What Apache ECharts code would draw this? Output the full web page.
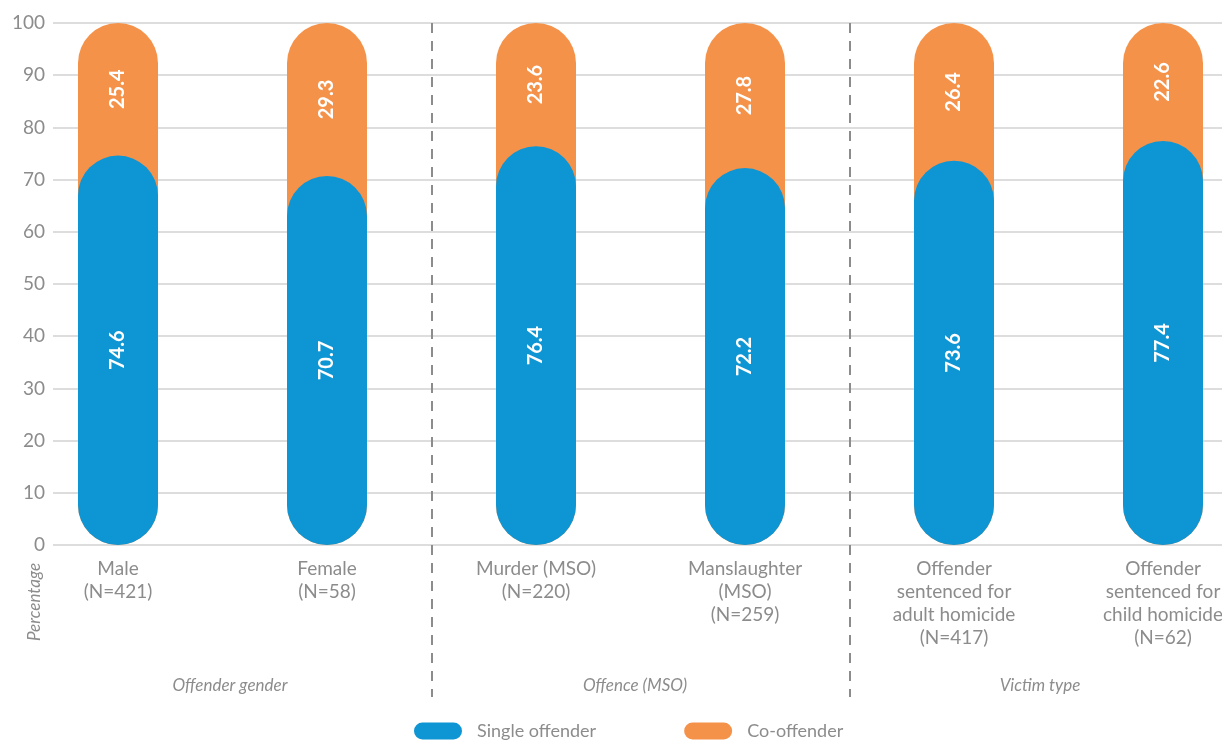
<!DOCTYPE html>
<html>
<head>
<meta charset="utf-8">
<title>Single offender vs co-offender</title>
<script src="https://cdn.jsdelivr.net/npm/echarts@6/dist/echarts.min.js"></script>
<style>
  html, body { margin: 0; padding: 0; background: #ffffff; }
  #chart { width: 1222px; height: 740px; }
</style>
</head>
<body>
<div id="chart"></div>
<script>
// Categories (x axis), grouped in pairs
const categories = [
  'Male\n(N=421)',
  'Female\n(N=58)',
  'Murder (MSO)\n(N=220)',
  'Manslaughter\n(MSO)\n(N=259)',
  'Offender\nsentenced for\nadult homicide\n(N=417)',
  'Offender\nsentenced for\nchild homicide\n(N=62)'
];
const groups = ['Offender gender', 'Offence (MSO)', 'Victim type'];

// Percentages
const singleOffender = [74.6, 70.7, 76.4, 72.2, 73.6, 77.4];
const coOffender = [25.4, 29.3, 23.6, 27.8, 26.4, 22.6];

const yTicks = { min: 0, max: 100, interval: 10 };

// top of each stacked column (single + co-offender)
const columnTotal = singleOffender.map((v, i) => +(v + coOffender[i]).toFixed(1));

const BLUE = '#0E95D3';
const ORANGE = '#F5924A';
const GREY = '#8c8c8c';
const FONT = 'Lato, "Open Sans", sans-serif';

const chart = echarts.init(document.getElementById('chart'), null, { renderer: 'canvas' });

const pillPath = 'path://M8.5,0 L39.5,0 A8.5,8.5 0 0 1 39.5,17 L8.5,17 A8.5,8.5 0 0 1 8.5,0 Z';

const valueLabel = {
  show: true,
  position: 'inside',
  rotate: 90,
  color: '#ffffff',
  fontFamily: FONT,
  fontWeight: 'bold',
  fontSize: 20,
  formatter: p => p.value.toFixed(1)
};

// the last category runs past the right edge of the canvas, so grids may overflow
const gridBase = { top: 23, outerBoundsMode: 'none', containLabel: false };

const option = {
  backgroundColor: '#ffffff',
  animation: false,
  textStyle: { fontFamily: FONT },
  grid: [
    // y scale + horizontal gridlines
    Object.assign({}, gridBase, { left: 53, width: 1169, bottom: 195 }),
    // bars + category labels
    Object.assign({}, gridBase, { left: 13.5, width: 1254, bottom: 195 }),
    // group separators
    Object.assign({}, gridBase, { left: 13.5, width: 1254, bottom: 43 }),
    // group titles
    Object.assign({}, gridBase, { left: 27.5, width: 1215, bottom: 43 })
  ],
  xAxis: [
    { gridIndex: 0, type: 'category', data: [''], show: false },
    {
      gridIndex: 1, type: 'category', data: categories,
      axisLine: { show: false }, axisTick: { show: false },
      axisLabel: {
        interval: 0, margin: 12, color: GREY, fontSize: 19, lineHeight: 23,
        fontFamily: FONT
      }
    },
    {
      gridIndex: 2, type: 'category', data: groups,
      axisLine: { show: false }, axisTick: { show: false }, axisLabel: { show: false },
      splitLine: {
        show: true,
        interval: (i) => i > 0,
        lineStyle: { color: GREY, width: 2, type: [10, 8] }
      }
    },
    {
      gridIndex: 3, type: 'category', data: groups,
      axisLine: { show: false }, axisTick: { show: false },
      axisLabel: {
        inside: true, margin: 3, color: GREY, fontSize: 17,
        fontStyle: 'italic', fontFamily: FONT
      }
    }
  ],
  yAxis: [
    {
      gridIndex: 0, type: 'value', min: yTicks.min, max: yTicks.max, interval: yTicks.interval,
      axisLine: { show: false }, axisTick: { show: false },
      axisLabel: { margin: 8, color: GREY, fontSize: 19, fontFamily: FONT },
      splitLine: { lineStyle: { color: '#d2d2d2', width: 1.5 } }
    },
    { gridIndex: 1, type: 'value', min: yTicks.min, max: yTicks.max, show: false },
    { gridIndex: 2, type: 'value', min: 0, max: 1, show: false },
    { gridIndex: 3, type: 'value', min: 0, max: 1, show: false }
  ],
  legend: {
    left: 409, top: 717,
    itemWidth: 48, itemHeight: 17, itemGap: 88,
    icon: pillPath,
    textStyle: { color: GREY, fontSize: 18, fontFamily: FONT, padding: [0, 0, 0, 10] },
    data: ['Single offender', 'Co-offender']
  },
  graphic: [
    {
      type: 'text', x: 35, y: 602, rotation: Math.PI / 2,
      style: {
        text: 'Percentage', fill: GREY, font: 'italic 17px ' + FONT,
        align: 'center', verticalAlign: 'middle'
      }
    }
  ],
  series: [
    // full orange pill from 0 up to the column total, sitting behind the blue pill
    {
      name: 'Co-offender', type: 'bar', xAxisIndex: 1, yAxisIndex: 1,
      data: columnTotal, barWidth: 80, barGap: '-100%',
      itemStyle: { color: ORANGE, borderRadius: 40 },
      silent: true, label: { show: false }
    },
    {
      name: 'Single offender', type: 'bar', xAxisIndex: 1, yAxisIndex: 1, stack: 'total',
      data: singleOffender, barWidth: 80, barGap: '-100%',
      itemStyle: { color: BLUE, borderRadius: 40 },
      label: valueLabel
    },
    // co-offender segment stacked on the blue pill; carries the value label
    {
      name: 'Co-offender', type: 'bar', xAxisIndex: 1, yAxisIndex: 1, stack: 'total',
      data: coOffender, barWidth: 80, barGap: '-100%',
      itemStyle: { color: 'rgba(0,0,0,0)' },
      label: valueLabel
    }
  ]
};

chart.setOption(option);
</script>
</body>
</html>
